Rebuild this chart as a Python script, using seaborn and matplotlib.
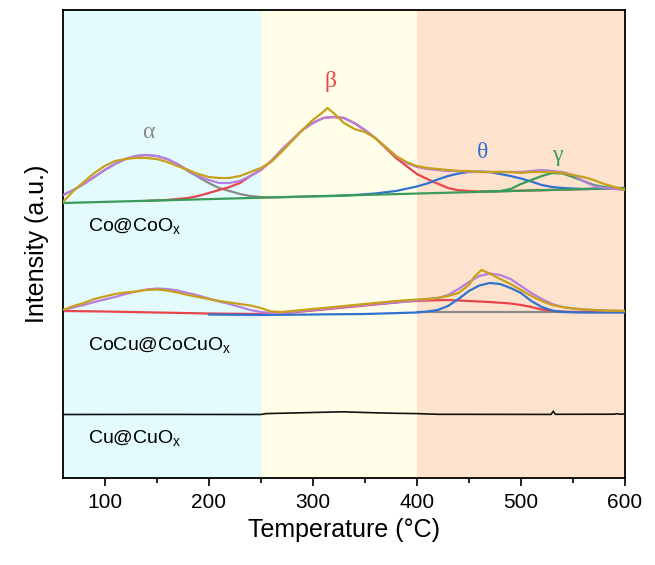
import numpy as np
import pandas as pd
import matplotlib
matplotlib.use("Agg")
import matplotlib.pyplot as plt
import seaborn as sns

# ---------------- data (arbitrary intensity units) -------------
# Co@CoOx
co_base_T = [60, 600]
co_base_I = [275, 290]

co_exp_T = [60, 70, 80, 90, 100, 110, 120, 130, 140, 150, 160, 170, 180, 190, 200, 210, 220,
            230, 240, 250, 260, 270, 280, 290, 300, 310, 314, 320, 330, 340, 350, 360, 370,
            380, 390, 400, 410, 420, 430, 440, 450, 460, 470, 480, 490, 500, 510, 520, 530,
            540, 550, 560, 570, 580, 590, 600]
co_exp_I = [276, 287, 296, 305, 312, 317, 319, 320, 320, 319, 316, 312, 308, 304, 301, 300, 300,
            302, 306, 310, 316, 326, 337, 348, 358, 366, 370, 365, 355, 349, 346, 340, 331,
            322, 316, 312, 310, 309, 308, 307, 307, 306, 306, 306, 306, 305, 306, 306, 306,
            305, 303, 301, 298, 294, 291, 288]

co_fit_T = [60, 70, 80, 90, 100, 110, 120, 130, 140, 150, 160, 170, 180, 190, 200, 210, 220,
            230, 240, 250, 260, 270, 280, 290, 300, 310, 320, 330, 340, 350, 360, 370, 380,
            390, 400, 410, 420, 430, 440, 450, 460, 470, 480, 490, 500, 510, 520, 530, 540,
            550, 560, 570, 580, 590, 600]
co_fit_I = [283, 288, 294, 301, 308, 314, 319, 322, 323, 322, 319, 314, 308, 302, 298, 295, 295,
            297, 302, 308, 317, 328, 338, 348, 355, 360, 361, 360, 355, 348, 340, 331, 322,
            315, 311, 309, 308, 307, 307, 306, 306, 306, 306, 306, 306, 307, 308, 307, 306,
            303, 297, 292, 290, 289, 288]

co_alpha_T = [60, 70, 80, 90, 100, 110, 120, 130, 140, 150, 160, 170, 180, 190, 200, 210, 220,
              230, 240, 250, 260, 280, 300]
co_alpha_I = [283, 288, 294, 301, 308, 314, 319, 322, 323, 322, 319, 314, 307, 301, 295, 290, 287,
              284, 282, 281, 280.6, 281.1, 281.7]

co_beta_T = [140, 160, 180, 190, 200, 210, 220, 230, 240, 250, 260, 270, 280, 290, 300, 310, 320,
             330, 340, 350, 360, 370, 380, 390, 400, 410, 420, 430, 440, 450, 460, 480, 500, 550, 600]
co_beta_I = [277.2, 278, 280, 282, 285, 288, 291, 295, 302, 308, 317, 328, 338, 348, 355, 360, 361,
             360, 355, 348, 340, 330, 320, 312, 304, 299, 294.4, 290, 287.7, 287, 286.4, 286.8,
             287.3, 288.6, 290]

co_theta_T = [300, 320, 340, 360, 380, 400, 410, 420, 430, 440, 450, 460, 470, 480, 490, 500, 510,
              520, 530, 540, 560, 580, 600]
co_theta_I = [281.7, 282, 283, 284.5, 287, 291.5, 294.5, 298.5, 302, 304.5, 306, 306.5, 306, 304,
              302, 299.5, 296.5, 293, 291, 290, 289, 289.3, 290]

co_gamma_T = [460, 480, 490, 500, 510, 520, 530, 540, 550, 560, 570, 580, 590, 600]
co_gamma_I = [286.2, 287, 289, 294, 298, 302, 305, 304.5, 301, 297, 293, 291, 290, 290]

# CoCu@CoCuOx
cocu_base_T = [400, 600]
cocu_base_I = [166, 166]

cocu_exp_T = [60, 70, 80, 90, 100, 110, 120, 130, 140, 150, 160, 170, 180, 190, 200, 210, 220,
              230, 240, 250, 260, 270, 280, 290, 300, 320, 340, 360, 380, 400, 410, 420, 430,
              440, 450, 455, 462, 470, 480, 490, 500, 510, 520, 530, 540, 550, 560, 580, 600]
cocu_exp_I = [168, 172, 175, 179, 181.5, 184, 185.5, 186.5, 188, 188.5, 187.5, 185.5, 183, 181,
              179, 177, 175.5, 174, 172.5, 170, 166.5, 166, 167, 168, 169, 171, 173, 175, 177,
              178.5, 179, 180, 182, 185, 193, 201, 208, 204.5, 199, 194, 188, 182, 177, 173,
              171, 169.5, 168.5, 167.5, 167]

cocu_fit_T = [60, 70, 80, 90, 100, 110, 120, 130, 140, 150, 160, 170, 180, 190, 200, 210, 220,
              230, 240, 250, 260, 270, 280, 290, 300, 320, 340, 360, 380, 400, 410, 420, 430,
              440, 450, 460, 470, 480, 490, 500, 510, 520, 530, 540, 550, 560, 580, 600]
cocu_fit_I = [168, 170.5, 173, 176, 178.5, 181, 184, 186.5, 188.5, 189.5, 189, 187.5, 185, 182.5,
              179.5, 176.5, 174, 171, 168, 166, 165, 165, 166, 167, 168, 170, 172, 174, 175.5,
              177.5, 178.5, 180, 183, 189, 196, 202, 204.5, 203, 199, 192, 185, 179, 174, 171,
              169.5, 168.5, 167.5, 167]

cocu_red_T = [60, 100, 150, 200, 250, 270, 290, 310, 330, 350, 370, 390, 410, 430, 450, 470, 490,
              500, 510, 520, 530, 550, 600]
cocu_red_I = [167, 166.5, 165.5, 164.5, 164, 164.5, 166.5, 168.5, 170.5, 172.5, 174.5, 176.5,
              177.5, 178, 177, 176, 174.5, 173, 171, 168.5, 167, 166, 166]

cocu_blue_T = [200, 250, 300, 350, 400, 410, 420, 430, 440, 450, 460, 470, 480, 490, 500, 510, 520,
               530, 540, 560, 600]
cocu_blue_I = [163.5, 163, 163.5, 164, 165.5, 166.5, 168, 172, 179, 187, 192.5, 195, 194, 190, 185,
               177, 171, 167.5, 166, 165.5, 165.5]

# Cu@CuOx
cu_T = [60, 150, 250, 255, 280, 300, 320, 330, 340, 360, 380, 400, 420, 520, 529, 531, 533,
        590, 592, 595, 600]
cu_I = [63.5, 63.6, 63.5, 64.4, 65, 65.5, 66, 66.2, 65.8, 65.2, 64.7, 64.4, 63.7, 63.6, 63.6,
        66.8, 63.7, 63.8, 64.3, 63.8, 64]

regions = [(60, 250), (250, 400), (400, 600)]
region_colors = ["#E3FBFD", "#FFFEE8", "#FDE3CD"]
sample_labels = ["Co@CoO$_\\mathrm{x}$", "CoCu@CoCuO$_\\mathrm{x}$", "Cu@CuO$_\\mathrm{x}$"]
peak_labels = ["α", "β", "θ", "γ"]

# ---------------- styling ----------------
GOLD = "#C9A01B"
PURPLE = "#B77FDD"
RED = "#E8454A"
BLUE = "#2F72D0"
GREEN = "#3A9C58"
GRAY = "#8A8A8A"

sns.set_theme(style="white")
plt.rcParams["font.family"] = ["Liberation Sans", "DejaVu Sans"]
plt.rcParams["mathtext.fontset"] = "custom"
plt.rcParams["mathtext.rm"] = "Liberation Sans"
plt.rcParams["mathtext.it"] = "Liberation Sans:italic"
plt.rcParams["text.color"] = "black"
plt.rcParams["axes.labelcolor"] = "black"
plt.rcParams["xtick.color"] = "black"
plt.rcParams["ytick.color"] = "black"

fig = plt.figure(figsize=(6.55, 5.65), dpi=100)
ax = fig.add_axes([63 / 655, 1 - 478 / 565, (625 - 63) / 655, (478 - 10) / 565])

for (a, b), c in zip(regions, region_colors):
    ax.axvspan(a, b, color=c, zorder=0, lw=0)


def line(T, I, color, lw=1.6, z=2):
    df = pd.DataFrame({"T": T, "I": I})
    sns.lineplot(data=df, x="T", y="I", color=color, lw=lw, ax=ax, zorder=z,
                 errorbar=None, sort=True)


# Co@CoOx
line(co_alpha_T, co_alpha_I, GRAY)
line(co_beta_T, co_beta_I, RED)
line(co_theta_T, co_theta_I, BLUE)
line(co_gamma_T, co_gamma_I, GREEN)
line(co_base_T, co_base_I, GREEN, z=3)
line(co_fit_T, co_fit_I, PURPLE, z=4)
line(co_exp_T, co_exp_I, GOLD, z=5)

# CoCu@CoCuOx
line(cocu_base_T, cocu_base_I, GRAY)
line(cocu_red_T, cocu_red_I, RED)
line(cocu_blue_T, cocu_blue_I, BLUE, z=3)
line(cocu_fit_T, cocu_fit_I, PURPLE, z=4)
line(cocu_exp_T, cocu_exp_I, GOLD, z=5)

# Cu@CuOx
line(cu_T, cu_I, "#111111", lw=1.2)

# labels
for y, lab in zip([252, 133, 40], sample_labels):
    ax.text(84, y, lab, fontsize=14, ha="left", va="center", color="black")

greek_font = ["Liberation Serif", "DejaVu Serif"]
ax.text(142, 346, peak_labels[0], fontsize=17, color=GRAY, ha="center", va="center", family=greek_font)
ax.text(317, 396, peak_labels[1], fontsize=17, color=RED, ha="center", va="center", family=greek_font)
ax.text(463, 326, peak_labels[2], fontsize=17, color=BLUE, ha="center", va="center", family=greek_font)
ax.text(535, 323, peak_labels[3], fontsize=17, color=GREEN, ha="center", va="center", family=greek_font)

ax.set_xlim(60, 600)
ax.set_ylim(0, 468)
ax.set_xticks([100, 200, 300, 400, 500, 600])
ax.set_xticks([150, 250, 350, 450, 550], minor=True)
ax.set_yticks([])
ax.tick_params(axis="x", which="major", direction="out", length=6, width=1.2,
               labelsize=15, bottom=True, pad=5, colors="black")
ax.tick_params(axis="x", which="minor", direction="out", length=3.5, width=1.2, bottom=True,
               colors="black")
ax.set_xlabel("Temperature (°C)", fontsize=18, labelpad=4, color="black")
ax.set_ylabel("Intensity (a.u.)", fontsize=18, labelpad=10, color="black")
for s in ax.spines.values():
    s.set_visible(True)
    s.set_color("black")
    s.set_linewidth(1.3)

fig.savefig("out.png", dpi=100)
